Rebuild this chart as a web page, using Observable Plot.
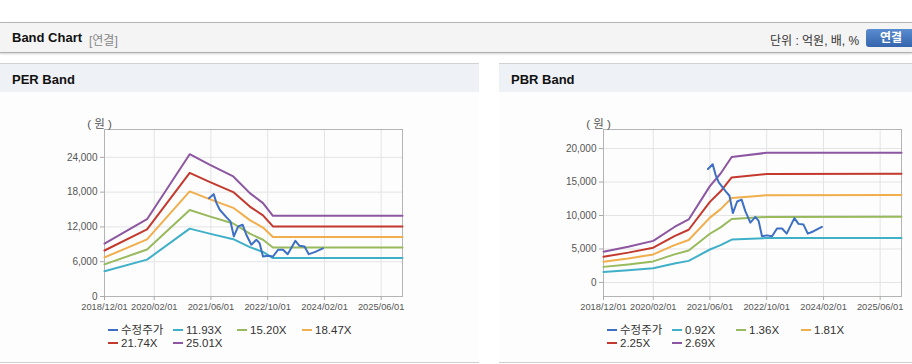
<!DOCTYPE html>
<html><head><meta charset="utf-8">
<script src="https://cdn.jsdelivr.net/npm/d3@7"></script>
<script src="https://cdn.jsdelivr.net/npm/@observablehq/plot@0.6"></script>
<style>
body{margin:0;width:912px;height:364px;overflow:hidden;position:relative;background:#fff;font-family:"Liberation Sans","Noto Sans CJK KR",sans-serif;}
.topbar{position:absolute;left:0;top:22px;width:912px;height:29px;background:#f4f4f4;border-top:1px solid #b4b4b4;border-bottom:1px solid #b0b0b0;box-shadow:0 1px 2px rgba(0,0,0,0.18);}
.title{position:absolute;left:12px;top:7px;font-size:13px;font-weight:bold;color:#111;}
.sub{position:absolute;left:89px;top:8px;font-size:12px;color:#888;}
.unit{position:absolute;left:770px;top:8px;font-size:12px;color:#333;}
.btn{position:absolute;left:866px;top:6px;width:50px;height:18px;border-radius:3px;background:linear-gradient(#5a8cd0,#3565ad);color:#fff;font-size:12px;font-weight:bold;text-align:center;line-height:18px;padding-right:4px;}
.panel{position:absolute;top:63px;height:298px;background:#fdfdfd;border-top:1px solid #d2d2d2;border-bottom:1px solid #cfcfcf;}
.phead{position:absolute;left:0;top:0;right:0;height:28px;background:#eef1f6;}
.ptitle{position:absolute;left:12px;top:8px;font-size:13px;font-weight:bold;color:#111;}
.chart{position:absolute;top:37px;left:0;}
.leg{position:absolute;font-size:11.5px;color:#333;white-space:nowrap;line-height:13px;}
.leg i{display:inline-block;width:10px;height:2px;margin-right:3px;vertical-align:middle;position:relative;top:-1px;}
</style>
</head><body>
<div class="topbar"><span class="title">Band Chart</span><span class="sub">[연결]</span><span class="unit">단위 : 억원, 배, %</span><div class="btn">연결</div></div>
<div class="panel" id="pL" style="left:0;width:479px;"><div class="phead"><span class="ptitle">PER Band</span></div><div class="chart" id="cL"></div></div>
<div class="panel" id="pR" style="left:499px;width:479px;"><div class="phead"><span class="ptitle">PBR Band</span></div><div class="chart" id="cR"></div></div>
<script>
// ---- data ----
const xTickLabels = ["2018/12/01","2020/02/01","2021/06/01","2022/10/01","2024/02/01","2025/06/01"];
const xDomain = ["2018-12-01","2025-12-01"];

const priceName = "수정주가";
const priceDates = ["2021-05-15","2021-06-25","2021-07-19","2021-08-16","2021-10-13","2021-11-16","2021-12-15","2022-01-21","2022-02-28","2022-04-01","2022-05-14","2022-06-26","2022-07-24","2022-08-22","2022-10-04","2022-11-16","2022-12-29","2023-02-10","2023-03-22","2023-05-27","2023-07-01","2023-08-13","2023-09-19","2023-11-08","2024-01-18"];
const priceValues = [16950,17650,16110,14960,13640,12950,10360,12090,12380,10650,8930,9790,9200,6900,7030,6900,8060,8060,7300,9610,8750,8640,7300,7650,8300];

const perNames = ["11.93X","15.20X","18.47X","21.74X","25.01X"];
const perDates = ["2018-12-01","2019-12-01","2020-12-01","2021-05-20","2021-12-10","2022-05-01","2022-08-22","2022-11-15","2025-12-01"];
const per1193 = [4354,6359,11703,10844,9878,8506,7683,6633,6633];
const per1520 = [5548,8102,14911,13817,12586,10838,9789,8451,8451];
const per1847 = [6742,9845,18119,16789,15293,13169,11895,10269,10269];
const per2174 = [7935,11587,21327,19762,18001,15501,14001,12087,12087];
const per2501 = [9129,13330,24535,22734,20708,17832,16106,13906,13906];
const perYTicks = [0,6000,12000,18000,24000];
const perYDomain = [0,28800];

const pbrNames = ["0.92X","1.36X","1.81X","2.25X","2.69X"];
const pbrDates = ["2018-12-01","2019-07-01","2020-02-01","2020-08-01","2020-12-01","2021-06-01","2021-09-01","2021-12-05","2022-10-01","2025-12-01"];
const pbr092 = [1573,1822,2125,2834,3220,4922,5566,6412,6624,6633];
const pbr136 = [2326,2693,3142,4189,4760,7276,8228,9479,9792,9806];
const pbr181 = [3095,3584,4181,5575,6335,9684,10951,12616,13032,13050];
const pbr225 = [3848,4455,5198,6930,7875,12038,13613,15683,16200,16223];
const pbr269 = [4600,5326,6214,8285,9415,14392,16275,18749,19368,19395];
const pbrYTicks = [0,5000,10000,15000,20000];
const pbrYDomain = [-2100,22850];

const colors = ["#3d70c4","#3fb0c8","#98ba5c","#f0ae4c","#c4392e","#8c56a0"];

// ---- build ----
const parse = d3.utcParse("%Y-%m-%d");
const parseTick = d3.utcParse("%Y/%m/%d");
const xTicks = xTickLabels.map(parseTick);

function rows(names, dates, series){
  const out = [];
  series.forEach((vals,k)=>vals.forEach((v,i)=>out.push({series:names[k], date:parse(dates[i]), value:v})));
  return out;
}
const priceRows = priceDates.map((d,i)=>({series:priceName,date:parse(d),value:priceValues[i]}));

function chart(bandRows, bandNames, yTicks, yDomain){
  const dom = [priceName, ...bandNames];
  return Plot.plot({
    width:479, height:220,
    marginLeft:104, marginRight:77, marginTop:28, marginBottom:25,
    style:{fontFamily:'"Liberation Sans","Noto Sans CJK KR",sans-serif', background:"transparent", color:"#555", overflow:"visible"},
    x:{type:"utc", domain:xDomain.map(parse), label:null},
    y:{domain:yDomain, label:null},
    color:{domain:dom, range:colors},
    marks:[
      Plot.gridX(xTicks.slice(1), {stroke:"#e4e4e4", strokeOpacity:1}),
      Plot.gridY(yTicks.filter(t=>t>yDomain[0]), {stroke:"#e4e4e4", strokeOpacity:1}),
      Plot.frame({stroke:"#b4b4b4"}),
      Plot.axisX({ticks:xTicks, tickFormat:(d,i)=>xTickLabels[i], tickSize:4, tickPadding:3, stroke:"#aaa", fill:"#555", fontSize:9.3}),
      Plot.axisY({ticks:yTicks, tickFormat:d3.format(","), tickSize:4, tickPadding:3, stroke:"#aaa", fill:"#555", fontSize:10}),
      Plot.text(["( 원 )"], {text:d=>d, frameAnchor:"top-left", dx:-5, dy:-10, fill:"#555", fontSize:11.5, textAnchor:"middle"}),
      Plot.line(bandRows, {x:"date", y:"value", z:"series", stroke:"series", strokeWidth:2}),
      Plot.line(priceRows, {x:"date", y:"value", stroke:"series", strokeWidth:2})
    ]
  });
}

const perRows = rows(perNames, perDates, [per1193,per1520,per1847,per2174,per2501]);
const pbrRows = rows(pbrNames, pbrDates, [pbr092,pbr136,pbr181,pbr225,pbr269]);
document.getElementById("cL").appendChild(chart(perRows, perNames, perYTicks, perYDomain));
document.getElementById("cR").appendChild(chart(pbrRows, pbrNames, pbrYTicks, pbrYDomain));

function legend(panelId, names){
  const p = document.getElementById(panelId);
  const all = [priceName, ...names];
  const cols = [108,173,237,302];
  all.forEach((n,i)=>{
    const el = document.createElement("div");
    el.className = "leg";
    el.style.left = cols[i%4] + "px";
    el.style.top = (i<4 ? 260 : 273) + "px";
    el.innerHTML = `<i style="background:${colors[i]}"></i>${n}`;
    p.appendChild(el);
  });
}
legend("pL", perNames);
legend("pR", pbrNames);
</script>
</body></html>
